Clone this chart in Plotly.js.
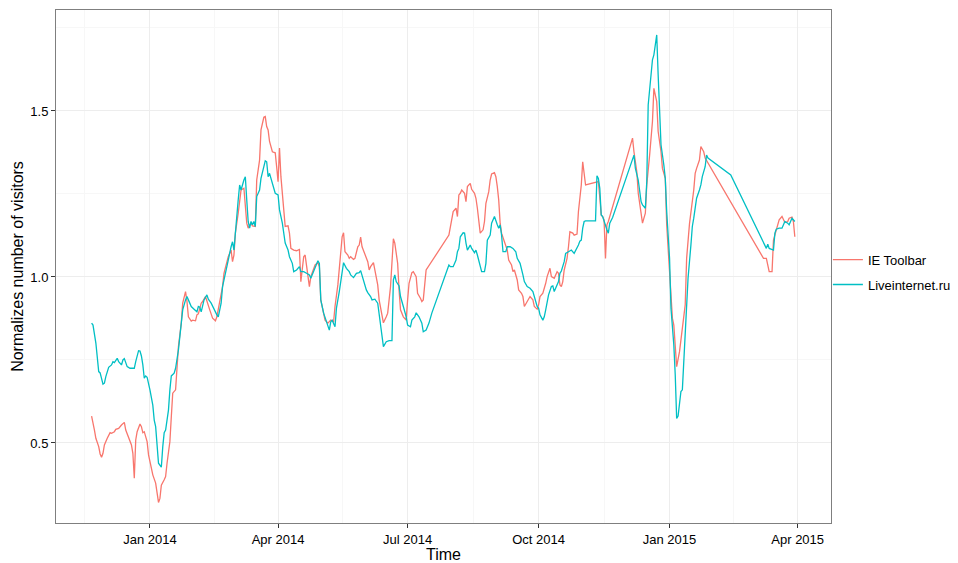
<!DOCTYPE html>
<html>
<head>
<meta charset="utf-8">
<script src="https://cdn.plot.ly/plotly-3.0.1.min.js"></script>
<style>
html,body{margin:0;padding:0;background:#fff;}
#chart{width:958px;height:563px;}
</style>
</head>
<body>
<div id="chart"></div>
<script>
// Dates are given as day offsets from this base date
const baseDate = '2014-01-01';

// IE Toolbar
const ieDays = [-41,-40,-39,-38,-36,-35,-34,-33,-32,-30,-28,-27,-25,-24,-22,-20,-18,-17,-15,-14,-13,-12,-11,-10,-9,-7,-6,-5,-4,-2,-1,1,2,4,5,6,7,8,10,11,12,14,15,16,18,19,20,22,23,25,26,27,29,30,32,33,34,36,37,39,40,42,44,46,47,49,51,52,54,55,57,58,59,60,62,63,64,66,67,68,69,70,71,72,74,75,76,77,78,80,81,82,83,84,86,88,89,90,91,92,94,95,97,98,99,101,103,105,106,107,108,109,110,111,112,113,115,116,118,119,120,122,123,125,127,129,130,132,134,135,136,137,139,140,141,143,144,146,147,148,149,150,151,153,154,155,157,158,159,160,161,163,164,166,167,169,170,171,172,174,175,176,178,180,181,182,184,185,187,188,190,191,192,194,210,211,212,213,215,216,217,218,219,221,222,223,225,226,228,229,230,231,232,234,235,236,238,239,240,242,243,244,245,246,247,249,251,252,254,255,256,258,259,261,262,263,265,267,269,270,272,273,274,276,278,279,281,282,284,286,287,288,289,290,291,293,294,295,297,298,300,301,303,304,306,315,316,317,318,319,320,321,322,324,339,340,342,343,345,346,348,349,351,353,354,356,357,359,360,362,363,365,367,368,369,370,372,373,374,376,377,379,382,383,384,386,387,389,390,431,433,435,437,438,440,442,444,446,448,449,451,452,453];
const ieVals = [0.581,0.564,0.539,0.514,0.489,0.467,0.457,0.469,0.494,0.514,0.531,0.529,0.534,0.541,0.544,0.554,0.562,0.539,0.519,0.504,0.494,0.469,0.394,0.509,0.534,0.557,0.549,0.531,0.534,0.504,0.464,0.424,0.404,0.379,0.349,0.321,0.333,0.373,0.389,0.399,0.439,0.504,0.579,0.650,0.660,0.720,0.790,0.861,0.921,0.956,0.926,0.880,0.867,0.870,0.868,0.886,0.889,0.921,0.926,0.941,0.926,0.901,0.876,0.868,0.880,0.921,0.971,1.011,1.041,1.061,1.081,1.046,1.066,1.132,1.192,1.232,1.262,1.267,1.212,1.162,1.147,1.154,1.162,1.154,1.152,1.292,1.317,1.352,1.443,1.481,1.483,1.453,1.443,1.408,1.377,1.374,1.332,1.287,1.388,1.302,1.202,1.152,1.154,1.132,1.086,1.081,1.079,1.083,0.986,1.021,1.061,1.066,1.031,1.006,0.971,1.001,1.021,1.036,1.043,1.031,0.931,0.891,0.870,0.861,0.870,0.865,0.911,0.976,1.071,1.121,1.133,1.076,1.066,1.056,1.061,1.053,1.056,1.091,1.096,1.120,1.091,1.081,1.066,1.046,1.021,1.031,1.043,1.021,1.009,0.976,0.931,0.891,0.862,0.880,0.891,0.971,1.051,1.115,1.102,1.041,0.961,0.901,0.880,0.870,0.931,0.981,1.013,1.016,1.001,0.951,0.936,0.926,0.931,1.021,1.126,1.152,1.172,1.197,1.207,1.182,1.247,1.252,1.262,1.252,1.227,1.272,1.282,1.264,1.252,1.237,1.207,1.162,1.132,1.142,1.167,1.222,1.257,1.292,1.310,1.314,1.302,1.272,1.232,1.162,1.132,1.106,1.081,1.051,1.036,1.016,1.021,0.991,0.961,0.951,0.941,0.911,0.926,0.941,0.931,0.911,0.903,0.916,0.941,0.951,0.981,1.001,1.026,1.001,0.996,1.016,1.011,0.976,0.971,0.986,1.021,1.056,1.091,1.136,1.132,1.126,1.129,1.197,1.277,1.347,1.277,1.287,1.240,1.187,1.182,1.172,1.056,1.157,1.167,1.197,1.418,1.377,1.317,1.252,1.192,1.162,1.192,1.277,1.367,1.468,1.568,1.528,1.438,1.377,1.327,1.297,1.157,1.016,0.876,0.855,0.795,0.730,0.775,0.815,0.835,0.916,1.056,1.160,1.262,1.312,1.327,1.352,1.393,1.377,1.358,1.056,1.056,1.016,1.016,1.111,1.142,1.172,1.182,1.164,1.167,1.177,1.180,1.167,1.121];

// Liveinternet.ru
const liDays = [-41,-40,-38,-36,-35,-33,-32,-31,-29,-27,-26,-25,-23,-22,-20,-19,-18,-16,-14,-11,-10,-8,-7,-6,-5,-4,-3,-2,0,2,3,4,6,8,9,10,11,13,14,15,17,18,20,22,23,25,26,27,29,31,33,34,35,36,38,40,41,43,45,47,48,50,51,53,55,57,58,59,60,62,63,64,66,67,68,69,70,71,72,73,74,75,77,78,80,81,82,83,84,86,87,88,90,91,93,94,95,97,98,100,101,103,105,106,108,110,112,113,114,116,117,118,119,120,122,124,126,127,128,130,131,133,134,136,138,140,141,143,145,147,148,150,152,153,155,156,158,160,161,163,164,166,168,170,171,172,173,175,176,178,180,181,183,184,186,187,189,191,192,194,196,198,210,211,213,215,216,217,218,220,221,222,223,225,226,228,229,230,232,233,235,236,237,239,240,242,244,245,246,247,248,250,251,253,255,257,258,260,262,263,265,267,269,270,271,272,273,274,276,277,278,279,280,282,283,284,285,286,287,288,289,291,292,294,296,298,299,301,302,303,304,305,306,313,314,315,316,317,318,319,321,322,323,325,340,341,342,343,345,346,348,349,350,352,353,354,355,356,357,358,359,361,362,363,365,366,368,369,370,371,373,374,376,378,380,381,382,383,384,386,387,388,389,390,391,392,408,432,433,434,435,438,439,440,442,444,446,448,449,451,452,453];
const liVals = [0.861,0.855,0.801,0.715,0.711,0.677,0.680,0.700,0.728,0.735,0.745,0.742,0.755,0.745,0.735,0.750,0.754,0.730,0.725,0.725,0.745,0.778,0.777,0.762,0.735,0.695,0.702,0.698,0.660,0.614,0.569,0.549,0.439,0.427,0.489,0.531,0.539,0.599,0.660,0.702,0.710,0.725,0.780,0.850,0.901,0.931,0.941,0.931,0.911,0.903,0.895,0.911,0.909,0.895,0.931,0.946,0.933,0.921,0.901,0.886,0.880,0.921,0.971,1.016,1.051,1.091,1.106,1.081,1.142,1.232,1.277,1.262,1.292,1.302,1.232,1.167,1.147,1.167,1.157,1.167,1.152,1.242,1.262,1.297,1.332,1.350,1.347,1.302,1.312,1.282,1.272,1.252,1.247,1.202,1.162,1.132,1.102,1.081,1.061,1.041,1.016,1.021,1.031,1.016,1.016,1.011,1.006,0.996,1.006,1.026,1.041,1.049,1.041,0.931,0.891,0.865,0.840,0.865,0.870,0.850,0.906,0.956,0.991,1.043,1.026,1.016,1.006,0.998,1.011,1.013,1.019,0.986,0.961,0.953,0.941,0.931,0.933,0.921,0.891,0.830,0.790,0.805,0.808,0.808,0.991,1.006,0.986,0.973,0.941,0.911,0.880,0.855,0.850,0.870,0.880,0.892,0.880,0.861,0.835,0.840,0.861,0.891,1.036,1.031,1.031,1.051,1.076,1.086,1.121,1.133,1.132,1.102,1.081,1.096,1.086,1.073,1.081,1.066,1.031,1.016,1.016,1.041,1.111,1.126,1.162,1.182,1.157,1.147,1.157,1.126,1.076,1.076,1.091,1.091,1.086,1.076,1.056,1.041,1.006,0.986,0.971,0.966,0.956,0.941,0.931,0.911,0.906,0.886,0.870,0.880,0.901,0.926,0.946,0.971,0.973,0.956,0.966,0.976,0.986,1.011,1.018,1.046,1.071,1.076,1.081,1.071,1.078,1.096,1.108,1.111,1.147,1.167,1.169,1.169,1.305,1.297,1.267,1.187,1.182,1.167,1.142,1.132,1.162,1.179,1.367,1.327,1.307,1.292,1.227,1.217,1.207,1.287,1.518,1.598,1.654,1.669,1.694,1.729,1.608,1.478,1.398,1.337,1.297,1.197,1.056,0.906,0.795,0.705,0.574,0.581,0.655,0.660,0.825,0.996,1.096,1.152,1.177,1.212,1.237,1.262,1.277,1.302,1.317,1.332,1.367,1.358,1.307,1.091,1.086,1.099,1.086,1.081,1.132,1.144,1.147,1.147,1.167,1.162,1.157,1.177,1.172,1.167];

// Axis labels
const xTickVals = ['2014-01-01','2014-04-01','2014-07-01','2014-10-01','2015-01-01','2015-04-01'];
const xTickText = ['Jan 2014','Apr 2014','Jul 2014','Oct 2014','Jan 2015','Apr 2015'];
const xMinorVals = ['2013-11-16','2014-02-15','2014-05-16','2014-08-16','2014-11-16','2015-02-15'];
const yTickVals = [0.5, 1.0, 1.5];
const yTickText = ['0.5', '1.0', '1.5'];
const yMinorVals = [0.25, 0.75, 1.25, 1.75];

function toDates(days) {
  const b = Date.parse(baseDate + 'T00:00:00Z');
  return days.map(d => new Date(b + d * 86400000).toISOString().slice(0, 10));
}

const FONT = 'Liberation Sans, Arial, Helvetica, sans-serif';

const traces = [
  {x: toDates(ieDays), y: ieVals, type: 'scatter', mode: 'lines', name: 'IE Toolbar',
   legendgroup: 'a', line: {color: '#F8766D', width: 1.3}},
  {x: toDates(liDays), y: liVals, type: 'scatter', mode: 'lines', name: 'Liveinternet.ru',
   legendgroup: 'b', line: {color: '#00BFC4', width: 1.3}}
];

const layout = {
  width: 958, height: 563,
  margin: {l: 56, r: 127, t: 10, b: 40, autoexpand: false},
  paper_bgcolor: '#fff', plot_bgcolor: '#fff',
  font: {family: FONT, color: '#000'},
  showlegend: true,
  legend: {x: 0.996, xanchor: 'left', y: 0.489, yanchor: 'middle',
           font: {family: FONT, size: 13, color: '#000'},
           itemwidth: 30, tracegroupgap: 5, bgcolor: 'rgba(0,0,0,0)'},
  xaxis: {
    type: 'date', range: ['2013-10-27', '2015-04-24 10:00'],
    tickmode: 'array', tickvals: xTickVals, ticktext: xTickText,
    ticks: 'outside', ticklen: 4, tickcolor: '#333', tickwidth: 1,
    tickfont: {family: FONT, size: 13, color: '#000'},
    showline: true, mirror: true, linecolor: '#7f7f7f', linewidth: 1,
    showgrid: true, gridcolor: '#ededed', gridwidth: 1, zeroline: false,
    minor: {tickmode: 'array', tickvals: xMinorVals, showgrid: true, gridcolor: '#f7f7f7', gridwidth: 1, ticks: ''},
    title: {text: 'Time', font: {family: FONT, size: 16, color: '#000'}, standoff: 9},
    automargin: false
  },
  yaxis: {
    range: [0.259, 1.804],
    tickmode: 'array', tickvals: yTickVals, ticktext: yTickText,
    ticks: 'outside', ticklen: 4, tickcolor: '#333', tickwidth: 1,
    tickfont: {family: FONT, size: 13, color: '#000'},
    showline: true, mirror: true, linecolor: '#7f7f7f', linewidth: 1,
    showgrid: true, gridcolor: '#ededed', gridwidth: 1, zeroline: false,
    minor: {tickmode: 'array', tickvals: yMinorVals, showgrid: true, gridcolor: '#f7f7f7', gridwidth: 1, ticks: ''},
    title: {text: 'Normalizes number of visitors', font: {family: FONT, size: 16, color: '#000'}, standoff: 2},
    automargin: false
  }
};

Plotly.newPlot('chart', traces, layout, {displayModeBar: false, staticPlot: true});
</script>
</body>
</html>
